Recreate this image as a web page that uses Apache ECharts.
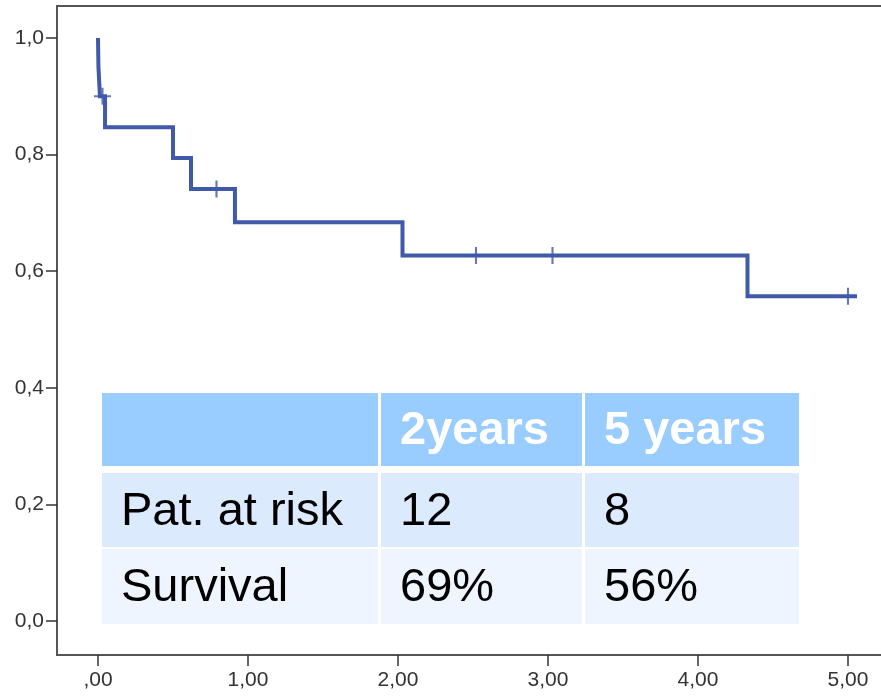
<!DOCTYPE html>
<html>
<head>
<meta charset="utf-8">
<script src="https://cdn.jsdelivr.net/npm/echarts@6/dist/echarts.min.js"></script>
<style>html,body{margin:0;padding:0;background:#fff}#c{width:881px;height:697px}</style>
</head>
<body>
<div id="c"></div>
<script>
// Kaplan-Meier steps: time (years) and survival after each event
const eventTimes = [0, 0.003, 0.013, 0.047, 0.50, 0.62, 0.913, 2.03, 4.33, 5.06];
const survival   = [1.0, 0.95, 0.90, 0.847, 0.794, 0.741, 0.684, 0.627, 0.557, 0.557];
// Censored observations
const censorTimes = [0.03, 0.79, 2.52, 3.03, 5.0];
const censorSurv  = [0.90, 0.741, 0.627, 0.627, 0.557];
// Axis ticks
const xTicks = [0, 1, 2, 3, 4, 5];
const xTickLabels = [',00', '1,00', '2,00', '3,00', '4,00', '5,00'];
const yTicks = [0, 0.2, 0.4, 0.6, 0.8, 1.0];
const yTickLabels = ['0,0', '0,2', '0,4', '0,6', '0,8', '1,0'];
// Table
const tableHeader = ['', '2years', '5 years'];
const tableRows = [
  ['Pat. at risk', '12', '8'],
  ['Survival', '69%', '56%']
];

const chart = echarts.init(document.getElementById('c'));
const labelFont = '"Liberation Sans Narrow", "Arial Narrow", "Liberation Sans", Arial, sans-serif';
const axisColor = '#555';

// table graphics
const colX = [102, 381, 585];
const colW = [276, 201, 214];
const rowY = [393, 473, 549];
const rowH = [73, 74, 75];
const rowFill = ['#99CCFF', '#DCEAFE', '#EEF5FF'];
const graphics = [];
const allRows = [tableHeader].concat(tableRows);
allRows.forEach((row, r) => {
  row.forEach((txt, c) => {
    graphics.push({
      type: 'rect', silent: true,
      shape: { x: colX[c], y: rowY[r], width: colW[c], height: rowH[r] },
      style: { fill: rowFill[r] }, z: 100
    });
    if (txt) {
      graphics.push({
        type: 'text', silent: true, z: 101,
        x: colX[c] + 19, y: rowY[r] + rowH[r] / 2 + 2,
        style: {
          text: txt, fill: r === 0 ? '#fff' : '#000',
          font: (r === 0 ? 'bold ' : '') + '47px "Liberation Sans", Arial, sans-serif',
          verticalAlign: 'middle', align: 'left'
        }
      });
    }
  });
});

chart.setOption({
  animation: false,
  grid: { left: 57, top: 6, width: 840, height: 649, outerBoundsMode: 'none', containLabel: false, show: true, borderColor: axisColor, borderWidth: 2, backgroundColor: '#fff' },
  xAxis: {
    type: 'value', min: -0.2733, max: 5.3267,
    splitLine: { show: false },
    axisLine: { show: true, onZero: false, lineStyle: { color: axisColor, width: 2 } },
    axisTick: { show: true, customValues: xTicks, length: 11, inside: false, lineStyle: { color: '#333', width: 1.5 } },
    axisLabel: {
      customValues: xTicks, margin: 15, color: '#333',
      fontFamily: labelFont, fontSize: 21,
      formatter: v => xTickLabels[xTicks.indexOf(Math.round(v))]
    }
  },
  yAxis: {
    type: 'value', min: -0.0583, max: 1.0549,
    splitLine: { show: false },
    axisLine: { show: true, onZero: false, lineStyle: { color: axisColor, width: 2 } },
    axisTick: { show: true, customValues: yTicks, length: 11, lineStyle: { color: '#333', width: 1.5 } },
    axisLabel: {
      customValues: yTicks, margin: 13, color: '#333',
      fontFamily: labelFont, fontSize: 21,
      formatter: v => yTickLabels[yTicks.findIndex(t => Math.abs(t - v) < 1e-6)]
    }
  },
  series: [
    {
      type: 'line', step: 'end', symbol: 'none',
      data: eventTimes.map((t, i) => [t, survival[i]]),
      lineStyle: { color: '#4059A9', width: 4, join: 'miter', cap: 'butt' },
      z: 3
    },
    {
      type: 'scatter',
      data: censorTimes.map((t, i) => [t, censorSurv[i]]),
      symbol: 'path://M7,0 H9 V16 H7 Z M0,7 H16 V9 H0 Z',
      symbolSize: [17, 17],
      itemStyle: { color: '#4059A9' },
      z: 4
    }
  ],
  graphic: graphics
});
</script>
</body>
</html>
